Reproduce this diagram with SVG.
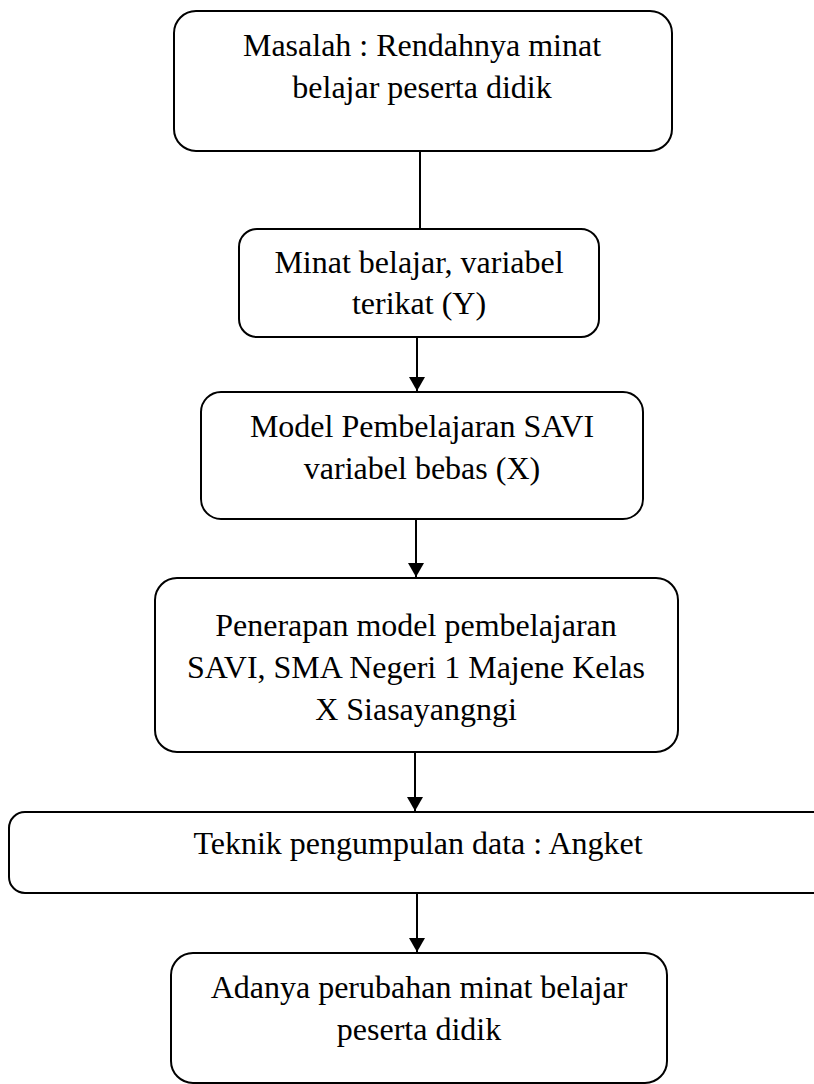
<svg xmlns="http://www.w3.org/2000/svg" width="814" height="1084" viewBox="0 0 814 1084">
<defs>
<style>
.box{fill:#fff;stroke:#000;stroke-width:2}
.t{font-family:"Liberation Serif","Times New Roman",serif;font-size:32px;fill:#000;text-anchor:middle}
.c{stroke:#000;stroke-width:2;fill:none}
</style>
<marker id="arr" viewBox="0 0 14 16" refX="14" refY="8" markerWidth="14" markerHeight="16" markerUnits="userSpaceOnUse" orient="auto">
<path d="M0,0 L14,8 L0,16 Z" fill="#000"/>
</marker>
</defs>
<rect width="814" height="1084" fill="#fff"/>
<g id="connectors">
<line class="c" x1="420" y1="151" x2="420" y2="229"/>
<line class="c" x1="417" y1="337" x2="417" y2="391" marker-end="url(#arr)"/>
<line class="c" x1="416" y1="519" x2="416" y2="577" marker-end="url(#arr)"/>
<line class="c" x1="415" y1="752" x2="415" y2="811" marker-end="url(#arr)"/>
<line class="c" x1="417" y1="893" x2="417" y2="952" marker-end="url(#arr)"/>
</g>
<g id="n1">
<rect class="box" x="174" y="11" width="498" height="140" rx="22"/>
<text class="t" x="422" y="56">Masalah : Rendahnya minat</text>
<text class="t" x="422" y="98">belajar peserta didik</text>
</g>
<g id="n2">
<rect class="box" x="239" y="229" width="360" height="108" rx="18"/>
<text class="t" x="419" y="273">Minat belajar, variabel</text>
<text class="t" x="419" y="314">terikat (Y)</text>
</g>
<g id="n3">
<rect class="box" x="201" y="392" width="442" height="127" rx="20"/>
<text class="t" x="422" y="437">Model Pembelajaran SAVI</text>
<text class="t" x="422" y="479">variabel bebas (X)</text>
</g>
<g id="n4">
<rect class="box" x="155" y="578" width="523" height="174" rx="22"/>
<text class="t" x="416" y="636">Penerapan model pembelajaran</text>
<text class="t" x="416" y="678">SAVI, SMA Negeri 1 Majene Kelas</text>
<text class="t" x="416" y="720">X Siasayangngi</text>
</g>
<g id="n5">
<rect class="box" x="9" y="812" width="830" height="81" rx="16"/>
<text class="t" x="418" y="854">Teknik pengumpulan data : Angket</text>
</g>
<g id="n6">
<rect class="box" x="171" y="953" width="496" height="130" rx="22"/>
<text class="t" x="419" y="998">Adanya perubahan minat belajar</text>
<text class="t" x="419" y="1040">peserta didik</text>
</g>
</svg>
